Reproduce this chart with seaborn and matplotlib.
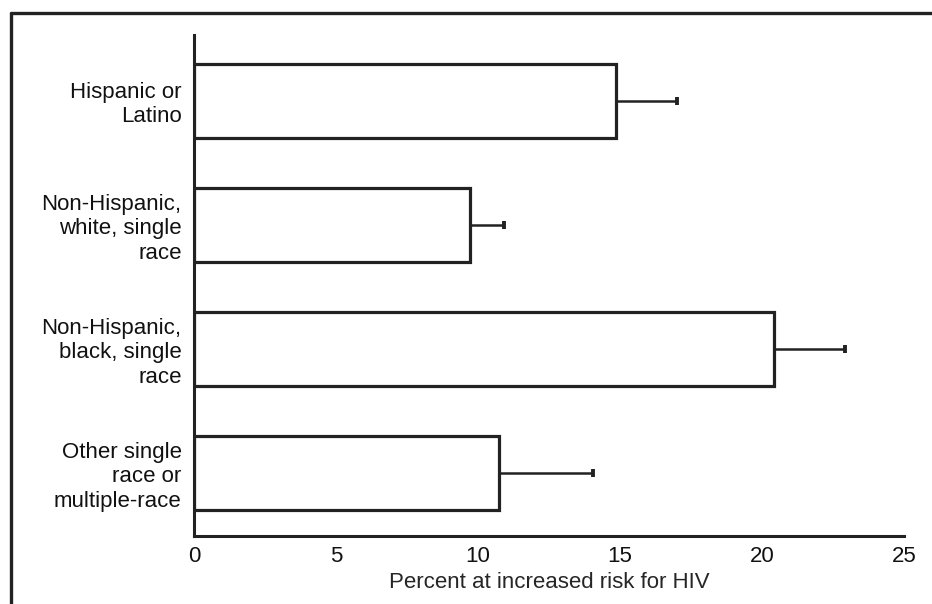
import matplotlib
matplotlib.use("Agg")
import matplotlib.pyplot as plt
import seaborn as sns
import pandas as pd
from matplotlib.lines import Line2D

groups = [
    "Hispanic or\nLatino",
    "Non-Hispanic,\nwhite, single\nrace",
    "Non-Hispanic,\nblack, single\nrace",
    "Other single\nrace or\nmultiple-race",
]
percent = [14.85, 9.72, 20.42, 10.74]
upper_ci = [17.0, 10.92, 22.92, 14.05]

df = pd.DataFrame({"group": groups, "percent": percent})

sns.set_style("white")
plt.rcParams["font.family"] = ["Liberation Sans", "DejaVu Sans"]
plt.rcParams["font.size"] = 16

fig = plt.figure(figsize=(9.32, 6.04), dpi=100)
ax = fig.add_axes([0.2082, 0.1126, 0.7618, 0.8294])

dark = "#222222"

sns.barplot(
    data=df,
    x="percent",
    y="group",
    orient="h",
    color="white",
    edgecolor=dark,
    linewidth=2.3,
    width=0.6,
    ax=ax,
)

# one-sided (upper) error bars
err_hi = [u - p for u, p in zip(upper_ci, percent)]
_, caps, _ = ax.errorbar(
    percent,
    range(len(groups)),
    xerr=[[0] * len(groups), err_hi],
    fmt="none",
    ecolor=dark,
    elinewidth=1.8,
    capsize=3,
    capthick=2.8,
)
caps[0].set_visible(False)

ax.set_xlim(0, 25)
ax.set_ylim(3.51, -0.53)
ax.set_xticks([0, 5, 10, 15, 20, 25])
ax.set_xlabel("Percent at increased risk for HIV", fontsize=16, labelpad=4)
ax.set_ylabel("")

for s in ["top", "right"]:
    ax.spines[s].set_visible(False)
for s in ["left", "bottom"]:
    ax.spines[s].set_linewidth(2.2)
    ax.spines[s].set_color(dark)

ax.tick_params(axis="x", direction="in", length=7, width=2, color=dark,
               labelsize=16, pad=7, labelcolor="#111111")
ax.tick_params(axis="y", length=0, pad=9, labelsize=16, labelcolor="#111111")
for lbl in ax.get_yticklabels():
    lbl.set_multialignment("right")
    lbl.set_linespacing(1.2)

# frame lines around the figure (left and top only)
fig.add_artist(Line2D([0.0118, 0.0118], [0, 0.978], transform=fig.transFigure,
                      color=dark, linewidth=2.4))
fig.add_artist(Line2D([0.0118, 1.0], [0.978, 0.978], transform=fig.transFigure,
                      color=dark, linewidth=2.4))

fig.savefig("out.png", dpi=100)
